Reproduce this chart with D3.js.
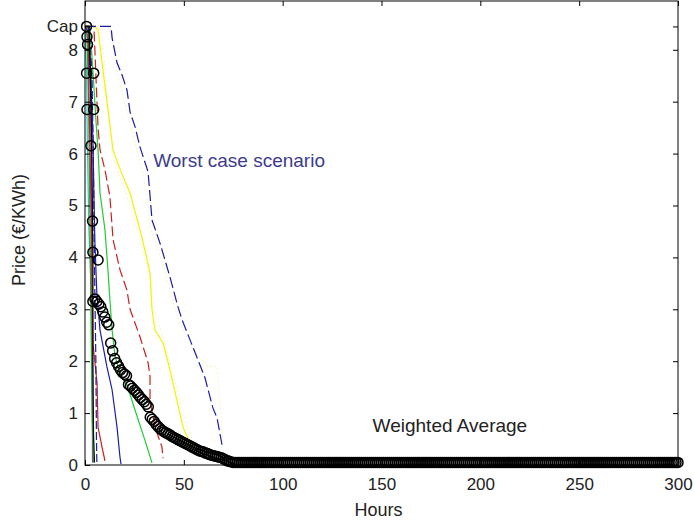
<!DOCTYPE html>
<html>
<head>
<meta charset="utf-8">
<script src="https://cdn.jsdelivr.net/npm/d3@7"></script>
<style>
  body { margin: 0; background: #fff; }
  text { font-family: "Liberation Sans", Arial, sans-serif; }
</style>
</head>
<body>
<div id="chart"></div>
<script>
// Price duration curves: [hours, price]
var cap = 8.45;
var xTicks = [0, 50, 100, 150, 200, 250, 300];
var yTicks = [0, 1, 2, 3, 4, 5, 6, 7, 8, cap];

var worstCase = [[0,8.45],[13.2,8.45],[13.7,8.23],[16.2,7.75],[18.7,7.52],[21.2,7.23],[22.8,6.8],[25.3,6.52],[27.8,6.13],[31.9,5.65],[33.9,4.72],[37.9,4.28],[43,3.62],[47,3.05],[49.1,2.8],[54.6,2.27],[60.7,1.68],[64.7,1.1],[66.8,0.91],[69.3,0.39]];
var yellowSolid = [[0,8.45],[5,8.45],[6.6,8.38],[10.1,7.3],[14.2,6.07],[18.7,5.6],[22.8,5.24],[28.8,4.39],[32.9,3.7],[33.9,2.99],[35.4,2.6],[39.5,2.35],[43,1.83],[46.5,1.25],[49.6,0.73],[53.1,0.42],[55.6,0.35]];
var redDashed = [[0,8.45],[4.5,8.45],[5.1,7.9],[5.6,7.42],[6.6,6.5],[7.6,6.07],[10.1,5.69],[12.6,5.17],[14.2,4.34],[17.7,3.76],[21.2,3.37],[22.8,3],[27.8,2.47],[31.9,1.97],[32.9,1.7],[32.9,1.25],[35.4,0.73],[38.9,0.35],[39.5,0.13]];
var greenSolid = [[0,8.45],[2.5,8.45],[4,7.6],[5.6,6.6],[6.6,6.07],[7.6,5.24],[10.1,4.53],[11.6,3.76],[12.6,3.18],[13.7,2.6],[15.2,2.1],[18.2,1.7],[21.2,1.55],[25.3,1.06],[30.3,0.48],[33.9,0.04]];
var blueSolid = [[0,8.45],[2,8.45],[3,7.5],[4,6.3],[4.5,5.2],[5,4.3],[6,3.3],[7.6,2.6],[11.1,1.89],[13.7,1.45],[16.2,0.73],[17.7,0.15],[18.2,0.02]];
var redSolid = [[0,8.45],[1.5,8.45],[2,7.2],[2.8,5.5],[3.5,4],[4,2.35],[6.1,1.58],[6.6,0.73],[8.6,0.35],[10.1,0.08]];
var blackSolid = [[0,8.45],[2,8.45],[3,7],[3.6,5.5],[4,4],[4,2],[4.3,0.6],[4.8,0.05]];
var greenLeft = [[0,8.45],[1,8.3],[1.8,7],[2.4,5],[3,3],[3.6,1],[4.2,0.05]];
var cyanLeft = [[0,8.45],[0.8,7.5],[1.2,6.2],[2,4.5],[3.5,3],[3.8,2],[4,0.05]];
var magentaLeft = [[0,8.45],[1.5,8.2],[2.5,7.6],[3,6.5],[3.3,4.5],[3.6,2.5],[3.8,0.05]];
var blueDashedLeft = [[0,8.45],[2.5,8.3],[3.5,7.6],[4.2,6],[4.6,4.5],[5,3.3],[5.5,2],[5.8,0.5],[6,0.05],[7,0.05]];
var faintA = [[0,8.45],[7,8.45],[8.6,8.3],[14.2,5.9],[22,5.1],[28,4.3],[33,3.6],[35,3],[40,2.4],[45,1.7],[49,1.1],[53,0.6],[57,0.35]];
var faintB = [[0,8.45],[12,8.45],[18,7.3],[26,6.1],[30,5.5],[33,4.6],[40,3.8],[47,2.8],[55,2.2],[62,1.9],[66.8,1.9],[69.8,0.42]];

// Weighted average markers: first the steep start, then one per hour from hour 5
var wavgPeak = [[0.8,8.45],[1,8.25],[1.3,8.1],[0.8,7.55],[4.4,7.55],[1,6.85],[4.4,6.85],[3,6.15],[3.8,4.7],[4,4.1],[6.6,3.95],[4,3.15]];
var wavgFirstHour = 5;
var wavgHourly = [
  3.2,3.15,3.1,3.05,2.95,2.85,2.75,2.7,2.35,2.2,
  2.05,1.97,1.9,1.83,1.78,1.75,1.72,1.55,1.52,1.48,
  1.44,1.4,1.35,1.3,1.26,1.22,1.17,1.12,0.92,0.88,
  0.84,0.78,0.74,0.7,0.67,0.64,0.62,0.6,0.58,0.55,
  0.53,0.51,0.49,0.47,0.45,0.43,0.41,0.39,0.37,0.35,
  0.33,0.31,0.29,0.27,0.26,0.25,0.23,0.22,0.2,0.19,
  0.18,0.17,0.16,0.15,0.14,0.12,0.1,0.08,0.07,0.06,
  0.05,0.05,0.05,0.05,0.05,0.05,0.05,0.05,0.05,0.05,0.05,0.05,0.05,0.05,0.05,0.05,0.05,0.05,0.05,0.05,0.05,0.05,0.05,0.05,0.05,
  0.05,0.05,0.05,0.05,0.05,0.05,0.05,0.05,0.05,0.05,0.05,0.05,0.05,0.05,0.05,0.05,0.05,0.05,0.05,0.05,0.05,0.05,0.05,0.05,0.05,
  0.05,0.05,0.05,0.05,0.05,0.05,0.05,0.05,0.05,0.05,0.05,0.05,0.05,0.05,0.05,0.05,0.05,0.05,0.05,0.05,0.05,0.05,0.05,0.05,0.05,
  0.05,0.05,0.05,0.05,0.05,0.05,0.05,0.05,0.05,0.05,0.05,0.05,0.05,0.05,0.05,0.05,0.05,0.05,0.05,0.05,0.05,0.05,0.05,0.05,0.05,
  0.05,0.05,0.05,0.05,0.05,0.05,0.05,0.05,0.05,0.05,0.05,0.05,0.05,0.05,0.05,0.05,0.05,0.05,0.05,0.05,0.05,0.05,0.05,0.05,0.05,
  0.05,0.05,0.05,0.05,0.05,0.05,0.05,0.05,0.05,0.05,0.05,0.05,0.05,0.05,0.05,0.05,0.05,0.05,0.05,0.05,0.05,0.05,0.05,0.05,0.05,
  0.05,0.05,0.05,0.05,0.05,0.05,0.05,0.05,0.05,0.05,0.05,0.05,0.05,0.05,0.05,0.05,0.05,0.05,0.05,0.05,0.05,0.05,0.05,0.05,0.05,
  0.05,0.05,0.05,0.05,0.05,0.05,0.05,0.05,0.05,0.05,0.05,0.05,0.05,0.05,0.05,0.05,0.05,0.05,0.05,0.05,0.05,0.05,0.05,0.05,0.05,
  0.05,0.05,0.05,0.05,0.05,0.05,0.05,0.05,0.05,0.05,0.05,0.05,0.05,0.05,0.05,0.05,0.05,0.05,0.05,0.05,0.05,0.05,0.05,0.05,0.05,
  0.05
];

// Line styles
var series = [
  { data: faintA, color: "#f7f7d0", dash: "2,2" },
  { data: faintB, color: "#f7f7d0", dash: "2,2" },
  { data: cyanLeft, color: "#22c8c8", dash: null },
  { data: magentaLeft, color: "#b020c0", dash: null },
  { data: greenLeft, color: "#20b020", dash: null },
  { data: redSolid, color: "#c82020", dash: null },
  { data: blueDashedLeft, color: "#1c1ca8", dash: "8,3" },
  { data: blueSolid, color: "#1c1cb0", dash: null },
  { data: greenSolid, color: "#22cc33", dash: null },
  { data: redDashed, color: "#cc2020", dash: "10,4" },
  { data: yellowSolid, color: "#f2f200", dash: null },
  { data: worstCase, color: "#1c1ca0", dash: "11,4" },
  { data: blackSolid, color: "#000", dash: null }
];

var svgWidth = 694, svgHeight = 525;
var plotLeft = 85, plotRight = 678, plotTop = 1, plotBottom = 465;

var svg = d3.select("#chart").append("svg")
  .attr("width", svgWidth)
  .attr("height", svgHeight);

var x = d3.scaleLinear().domain([0, 300]).range([plotLeft, plotRight]);
var y = d3.scaleLinear().domain([0, 8.94]).range([plotBottom, plotTop]);

svg.append("clipPath").attr("id", "plot")
  .append("rect")
  .attr("x", plotLeft).attr("y", plotTop)
  .attr("width", plotRight - plotLeft).attr("height", plotBottom - plotTop);

var line = d3.line().x(d => x(d[0])).y(d => y(d[1]));

svg.append("g").attr("clip-path", "url(#plot)")
  .selectAll("path")
  .data(series)
  .enter()
  .append("path")
  .attr("d", d => line(d.data))
  .attr("fill", "none")
  .attr("stroke", d => d.color)
  .attr("stroke-width", 1.2)
  .attr("stroke-dasharray", d => d.dash);

// weighted average circles
var wavg = wavgPeak.concat(wavgHourly.map((v, i) => [wavgFirstHour + i, v]));
svg.append("g")
  .selectAll("circle")
  .data(wavg)
  .enter()
  .append("circle")
  .attr("cx", d => x(d[0]))
  .attr("cy", d => y(d[1]))
  .attr("r", 5)
  .attr("fill", "none")
  .attr("stroke", "#000")
  .attr("stroke-width", 1.5);

// axes, MATLAB style with inward ticks
var fontSize = "17px";
var bottomAxis = d3.axisBottom(x).tickValues(xTicks).tickSizeInner(-5).tickSizeOuter(0).tickPadding(13);
var leftAxis = d3.axisLeft(y).tickValues(yTicks).tickSizeInner(-5).tickSizeOuter(0).tickPadding(7)
  .tickFormat(d => d === cap ? "Cap" : d);
var topAxis = d3.axisTop(x).tickValues(xTicks).tickSizeInner(-5).tickSizeOuter(0).tickFormat("");
var rightAxis = d3.axisRight(y).tickValues(yTicks).tickSizeInner(-5).tickSizeOuter(0).tickFormat("");

function styleAxis(g) {
  g.select(".domain").remove();
  g.selectAll("line").attr("stroke", "#000");
  g.selectAll("text").attr("fill", "#222").style("font-size", fontSize);
}

svg.append("g").attr("transform", `translate(0, ${plotBottom})`).call(bottomAxis).call(styleAxis);
svg.append("g").attr("transform", `translate(${plotLeft}, 0)`).call(leftAxis).call(styleAxis);
svg.append("g").attr("transform", `translate(0, ${plotTop})`).call(topAxis).call(styleAxis);
svg.append("g").attr("transform", `translate(${plotRight}, 0)`).call(rightAxis).call(styleAxis);

svg.append("rect")
  .attr("x", plotLeft).attr("y", plotTop)
  .attr("width", plotRight - plotLeft).attr("height", plotBottom - plotTop)
  .attr("fill", "none")
  .attr("stroke", "#000")
  .attr("stroke-width", 1);

// labels
svg.append("text")
  .attr("x", (plotLeft + plotRight) / 2 - 3)
  .attr("y", 516)
  .attr("text-anchor", "middle")
  .attr("fill", "#222")
  .style("font-size", "18px")
  .text("Hours");

svg.append("text")
  .attr("transform", "rotate(-90)")
  .attr("x", -230)
  .attr("y", 25)
  .attr("text-anchor", "middle")
  .attr("fill", "#222")
  .style("font-size", "18px")
  .text("Price (€/KWh)");

svg.append("text")
  .attr("x", x(34.5))
  .attr("y", 167)
  .attr("fill", "#3c3c8c")
  .style("font-size", "19px")
  .text("Worst case scenario");

svg.append("text")
  .attr("x", x(145.5))
  .attr("y", 432)
  .attr("fill", "#222")
  .style("font-size", "19px")
  .text("Weighted Average");
</script>
</body>
</html>
